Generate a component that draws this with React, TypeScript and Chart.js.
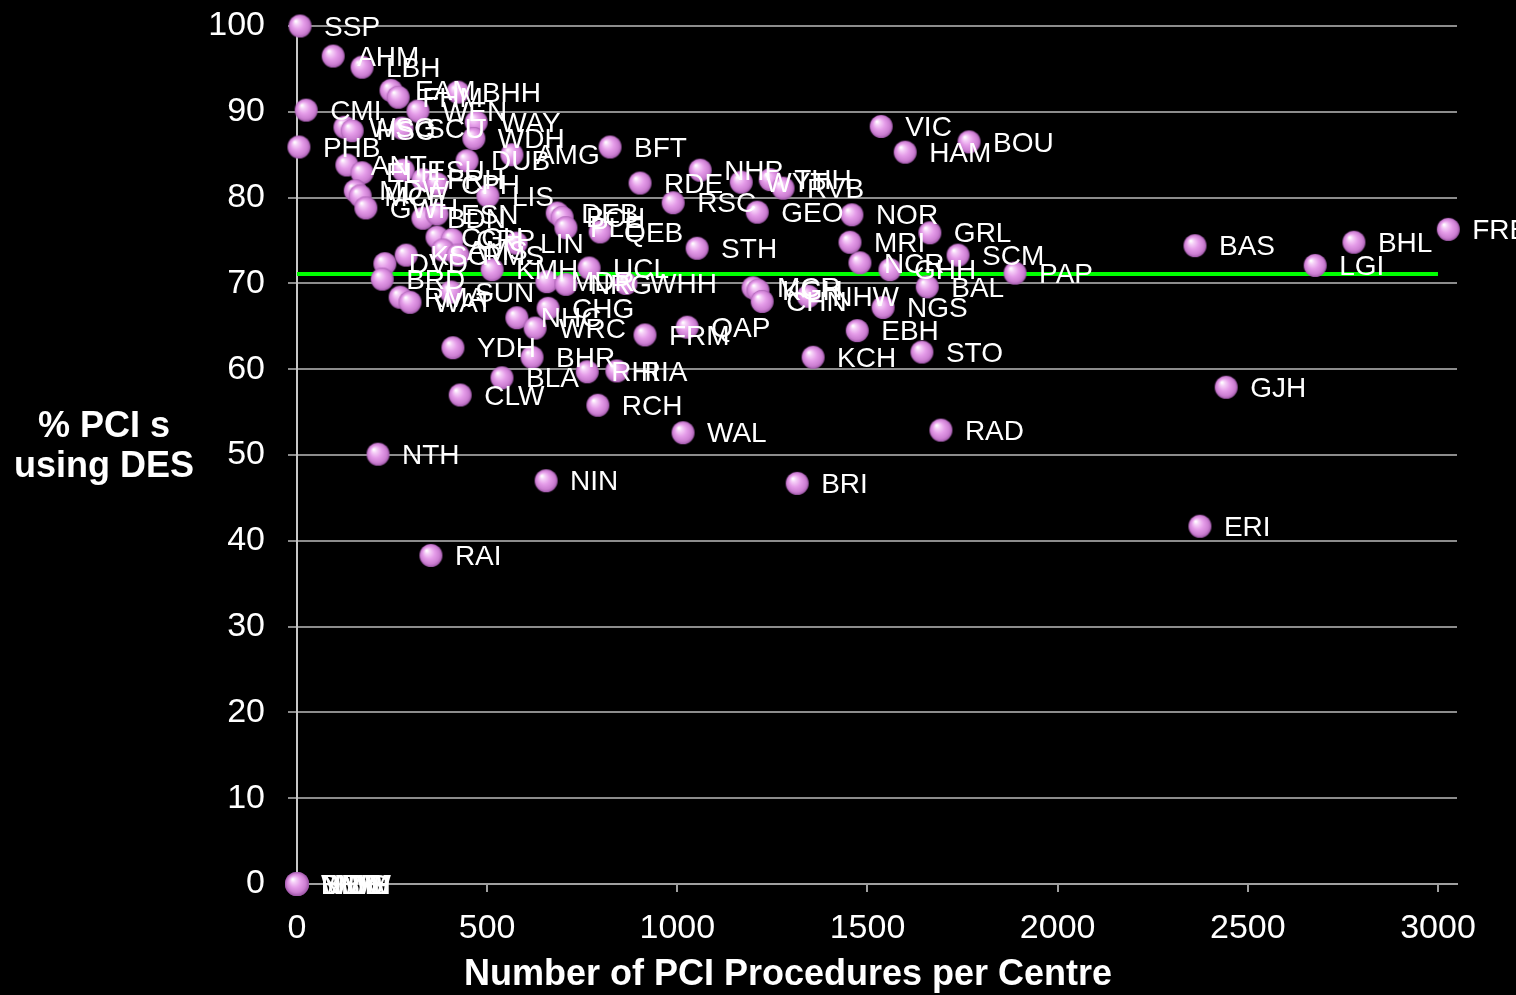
import React, { useEffect, useRef } from "react";
import { Chart, registerables } from "chart.js";

Chart.register(...registerables);

// ---- data ----
const centres = [
  "SSP", "AHM", "LBH", "EAM", "FHM", "BHH", "CMI", "WEN", "WAY", "WDH",
  "WSG", "HSC", "SCU", "PHB", "BFT", "ANT", "ELH", "ESU", "DUB", "AMG",
  "MDW", "MCE", "GWH", "FRH", "CPH", "LIS", "BDN", "ESN", "DEB", "BCH",
  "PLE", "QEB", "CGH", "CRP", "LIN", "KSC", "AMS", "RMS", "DVD", "BRD",
  "KMH", "SUN", "RMA", "WAT", "MDR", "NRG", "UCL", "WHH", "CHG", "NHC",
  "WRC", "YDH", "BHR", "BLA", "CLW", "RHI", "RIA", "RCH", "FRM", "QAP",
  "STH", "NHP", "WYT", "THH", "RVB", "RDE", "RSC", "GEO", "NOR", "MRI",
  "NCR", "GHH", "GRL", "SCM", "PAP", "BAL", "NGS", "NHW", "MCR", "KGH",
  "CHN", "EBH", "KCH", "STO", "VIC", "BOU", "HAM", "BAS", "LGI", "BHL",
  "FRE", "GJH", "ERI", "RAD", "BRI", "WAL", "NIN", "NTH", "RAI",
  "MWH", "NBH", "WDG", "HMB", "DMW", "BWM",
];

const procedures = [
  8, 95, 171, 247, 266, 423, 24, 318, 471, 465,
  126, 145, 276, 5, 823, 131, 171, 279, 447, 565,
  153, 166, 181, 331, 368, 502, 331, 368, 684, 697,
  707, 797, 368, 408, 576, 287, 384, 423, 231, 224,
  513, 405, 271, 297, 657, 707, 768, 865, 660, 578,
  626, 410, 618, 539, 429, 763, 841, 791, 915, 1026,
  1052, 1060, 1168, 1244, 1278, 902, 989, 1210, 1459, 1454,
  1480, 1559, 1664, 1738, 1888, 1657, 1541, 1344, 1199, 1212,
  1223, 1473, 1357, 1643, 1536, 1767, 1599, 2361, 2677, 2779,
  3027, 2443, 2374, 1693, 1315, 1015, 655, 213, 352,
  0, 0, 0, 0, 0, 0,
];

const desPercent = [
  100, 96.5, 95.2, 92.5, 91.7, 92.3, 90.2, 90.1, 88.8, 86.9,
  88.2, 87.8, 88.1, 85.9, 85.9, 83.8, 82.9, 83.2, 84.3, 85.0,
  80.8, 80.2, 78.8, 82.1, 81.6, 80.2, 77.6, 78.1, 78.2, 77.7,
  76.5, 76.0, 75.4, 75.1, 74.7, 73.3, 73.9, 73.3, 72.3, 70.5,
  71.6, 69.0, 68.4, 67.8, 70.2, 69.9, 71.8, 70.0, 67.1, 66.0,
  64.8, 62.5, 61.4, 59.0, 57.0, 59.7, 59.8, 55.8, 64.0, 64.9,
  74.1, 83.2, 81.8, 82.1, 81.1, 81.7, 79.4, 78.3, 78.0, 74.8,
  72.4, 71.6, 75.9, 73.3, 71.2, 69.6, 67.2, 68.5, 69.5, 69.2,
  67.9, 64.5, 61.4, 62.0, 88.3, 86.5, 85.3, 74.4, 72.1, 74.8,
  76.3, 57.9, 41.7, 52.9, 46.7, 52.6, 47.0, 50.1, 38.3,
  0, 0, 0, 0, 0, 0,
];

const meanDes = 71.1;
const meanRange = [0, 3000];
const xTickValues = [0, 500, 1000, 1500, 2000, 2500, 3000];
const xMax = 3050;
const yMin = 0;
const yMax = 100;
const yStep = 10;

const xTitle = "Number of PCI Procedures per Centre";
const yTitleLines = ["% PCI s", "using DES"];

const FONT = '"Liberation Sans", Arial, sans-serif';

function makeBall(r: number): HTMLCanvasElement {
  const c = document.createElement("canvas");
  const s = Math.ceil(r * 2 + 2);
  c.width = s;
  c.height = s;
  const g = c.getContext("2d")!;
  const cx = s / 2;
  const cy = s / 2;
  const grad = g.createRadialGradient(cx - r * 0.38, cy - r * 0.42, r * 0.05, cx, cy, r);
  grad.addColorStop(0, "#ffffff");
  grad.addColorStop(0.18, "#f6d2f8");
  grad.addColorStop(0.5, "#e59ce9");
  grad.addColorStop(0.82, "#cc7fd2");
  grad.addColorStop(1, "#a25aab");
  g.fillStyle = grad;
  g.beginPath();
  g.arc(cx, cy, r, 0, Math.PI * 2);
  g.fill();
  return c;
}

const bgPlugin = {
  id: "bg",
  beforeDraw(chart: any) {
    const ctx = chart.ctx;
    ctx.save();
    ctx.fillStyle = "#000";
    ctx.fillRect(0, 0, chart.width, chart.height);
    ctx.restore();
  },
};

const labelPlugin = {
  id: "pointLabels",
  afterDatasetsDraw(chart: any) {
    const meta = chart.getDatasetMeta(0);
    const ctx = chart.ctx;
    ctx.save();
    ctx.font = `28px ${FONT}`;
    ctx.fillStyle = "#ffffff";
    ctx.textBaseline = "middle";
    ctx.textAlign = "left";
    meta.data.forEach((pt: any, i: number) => {
      ctx.fillText(centres[i], pt.x + 24, pt.y + 2);
    });
    ctx.restore();
  },
};

const titlePlugin = {
  id: "titles",
  afterDraw(chart: any) {
    const ctx = chart.ctx;
    ctx.save();
    ctx.fillStyle = "#ffffff";
    ctx.font = `bold 36px ${FONT}`;
    ctx.textAlign = "center";
    ctx.textBaseline = "middle";
    ctx.fillText(xTitle, 788, 975);
    yTitleLines.forEach((line, i) => {
      ctx.fillText(line, 104, 427 + i * 40);
    });
    ctx.restore();
  },
};

export default function App() {
  const ref = useRef<HTMLCanvasElement | null>(null);

  useEffect(() => {
    if (!ref.current) return;
    const ball = makeBall(11.5);
    const points = procedures.map((x, i) => ({ x, y: desPercent[i] }));
    const chart = new Chart(ref.current, {
      type: "scatter",
      data: {
        datasets: [
          {
            label: "Centres",
            data: points,
            pointStyle: ball as any,
            pointRadius: 11.5,
            clip: false as any,
          },
          {
            type: "line",
            label: "Mean",
            data: meanRange.map((x) => ({ x, y: meanDes })),
            borderColor: "#00ff00",
            borderWidth: 4,
            pointRadius: 0,
            showLine: true,
            fill: false,
          } as any,
        ],
      },
      options: {
        animation: false,
        responsive: false,
        maintainAspectRatio: false,
        events: [],
        layout: { padding: { top: 26, right: 59, left: 0, bottom: 0 } },
        plugins: {
          legend: { display: false },
          tooltip: { enabled: false },
          title: { display: false },
        },
        scales: {
          x: {
            type: "linear",
            min: 0,
            max: xMax,
            afterBuildTicks: (axis: any) => {
              axis.ticks = xTickValues.map((v) => ({ value: v }));
            },
            afterFit: (axis: any) => {
              axis.height = 111;
              axis.paddingLeft = 0;
              axis.paddingRight = 0;
            },
            grid: {
              drawOnChartArea: false,
              drawTicks: true,
              tickLength: 8,
              color: "#a0a0a0",
              lineWidth: 2,
            },
            border: { display: true, color: "#a0a0a0", width: 2 },
            ticks: {
              color: "#ffffff",
              font: { family: FONT, size: 34 },
              padding: 16,
              maxRotation: 0,
              autoSkip: false,
              callback: (v: any) => String(v),
            },
          },
          y: {
            type: "linear",
            min: yMin,
            max: yMax,
            afterFit: (axis: any) => {
              axis.width = 297;
              axis.paddingTop = 0;
              axis.paddingBottom = 0;
            },
            grid: {
              drawOnChartArea: true,
              drawTicks: true,
              tickLength: 9,
              color: "#8c8c8c",
              lineWidth: 2,
            },
            border: { display: true, color: "#c8c8c8", width: 2 },
            ticks: {
              stepSize: yStep,
              color: "#ffffff",
              font: { family: FONT, size: 34 },
              padding: 23,
              callback: (v: any) => String(v),
            },
          },
        },
      },
      plugins: [bgPlugin, labelPlugin, titlePlugin],
    });
    return () => chart.destroy();
  }, []);

  return (
    <div style={{ position: "fixed", left: 0, top: 0, width: 1516, height: 995, background: "#000" }}>
      <canvas ref={ref} width={1516} height={995} style={{ display: "block" }} />
    </div>
  );
}
